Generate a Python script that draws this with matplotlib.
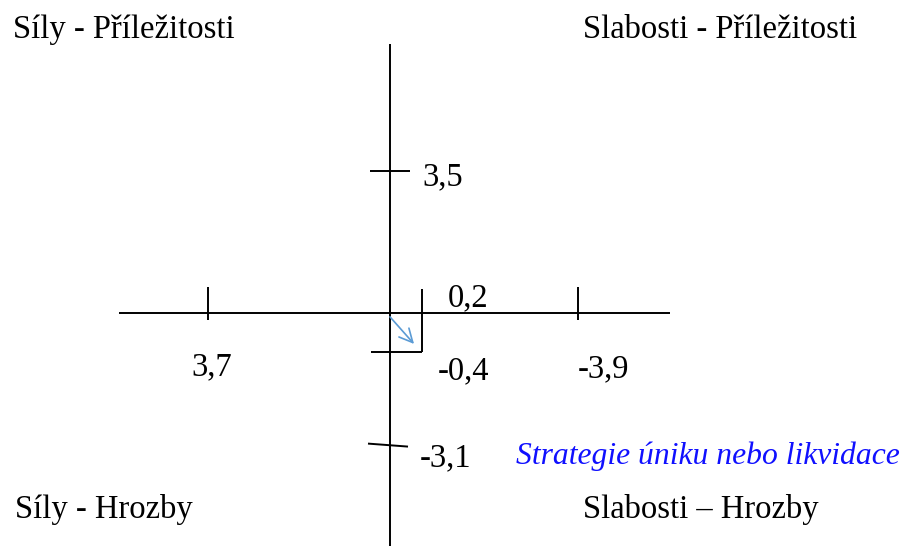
import numpy as np
import matplotlib
matplotlib.use("Agg")
import matplotlib.pyplot as plt

# values shown in the diagram
sw_values = [3.7, -3.9]          # strengths / weaknesses (x)
sw_labels = ["3,7", "-3,9"]
ot_values = [3.5, -3.1]          # opportunities / threats (y)
ot_labels = ["3,5", "-3,1"]
result = (-0.2, -0.4)            # resulting position
result_labels = ["0,2", "-0,4"]
quadrants = ["Síly - Příležitosti", "Slabosti - Příležitosti",
             "Síly - Hrozby", "Slabosti \u2013 Hrozby"]
strategy = "Strategie úniku nebo likvidace"

FONT = "Liberation Serif"
FS = 23.5
W, H = 912, 546
OX, OY = 390, 313      # origin in pixels
KX, KY = 83, 67        # pixels per scaled unit
P = 0.6                # diagram is not drawn to scale


def fwd(v):
    v = np.asarray(v, dtype=float)
    return np.sign(v) * np.abs(v) ** P


def inv(t):
    t = np.asarray(t, dtype=float)
    return np.sign(t) * np.abs(t) ** (1 / P)


def sx(v, d):   # shift data x by d pixels to the right
    return float(inv(fwd(v) - d / KX))


def sy(v, d):   # shift data y by d pixels up
    return float(inv(fwd(v) + d / KY))


fig = plt.figure(figsize=(W / 100, H / 100), dpi=100)
ax = fig.add_axes([0, 0, 1, 1])
ax.set_xscale("function", functions=(fwd, inv))
ax.set_yscale("function", functions=(fwd, inv))
ax.set_xlim(sx(0, -OX), sx(0, W - OX))
ax.set_ylim(sy(0, -(H - OY)), sy(0, OY))
ax.axis("off")

lk = dict(color="black", lw=1.4, solid_capstyle="butt")

# axes
ax.axhline(0, xmin=119 / W, xmax=670 / W, **lk)
ax.axvline(0, ymin=0, ymax=(H - 44) / H, **lk)

# ticks on x
for v in sw_values:
    ax.plot([v, v], [sy(0, 26), sy(0, -7)], **lk)

# ticks on y
ax.plot([sx(0, -20), sx(0, 20)], [ot_values[0]] * 2, **lk)
ax.plot([sx(0, -22), sx(0, 18)],
        [sy(ot_values[1], 1.5), sy(ot_values[1], -1.5)], **lk)

# result box
rx, ry = result
ax.plot([rx, rx], [sy(0, 24), ry], **lk)
ax.plot([sx(0, -19), rx], [ry, ry], **lk)

# arrow towards result
start = (0.0, float(inv(0.1 * fwd(ry))))
end = (float(inv(0.76 * fwd(rx))), float(inv(0.8 * fwd(ry))))
ax.annotate("", xy=end, xytext=start,
            arrowprops=dict(arrowstyle="->", color="#5B9BD5", lw=1.2,
                            mutation_scale=24, shrinkA=0, shrinkB=0))

tk = dict(textcoords="offset pixels", family=FONT,
          ha="left", va="baseline")
ax.annotate(sw_labels[0], xy=(sw_values[0], 0), xytext=(-17, -62),
            fontsize=FS, **tk)
ax.annotate(sw_labels[1], xy=(sw_values[1], 0), xytext=(0, -64),
            fontsize=FS, **tk)
ax.annotate(ot_labels[0], xy=(0, ot_values[0]), xytext=(32, -14),
            fontsize=FS, **tk)
ax.annotate(ot_labels[1], xy=(0, ot_values[1]), xytext=(30, -21),
            fontsize=FS, **tk)
ax.annotate(result_labels[0], xy=(rx, 0), xytext=(26, 7),
            fontsize=FS, **tk)
ax.annotate(result_labels[1], xy=(rx, ry), xytext=(16, -28),
            fontsize=FS, **tk)
ax.annotate(strategy, xy=(0, ot_values[1]), xytext=(126, -19),
            fontsize=22.8, color="#1010FF", style="italic", **tk)

# quadrant names
qpos = [(13, 38), (583, 38), (15, 518), (583, 518)]
for name, (px, py) in zip(quadrants, qpos):
    fig.text(px / W, 1 - py / H, name, fontsize=FS, family=FONT,
             ha="left", va="baseline")

fig.savefig("out.png", dpi=100)
